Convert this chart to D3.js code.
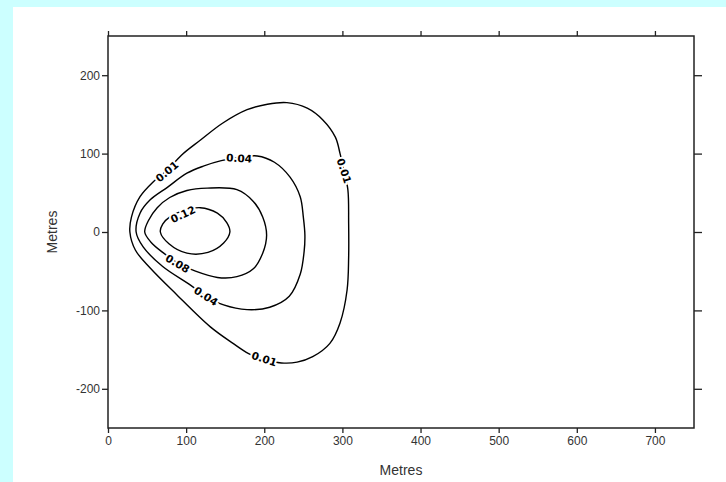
<!DOCTYPE html>
<html>
<head>
<meta charset="utf-8">
<script src="https://cdn.jsdelivr.net/npm/d3@7"></script>
<style>
  html, body { margin: 0; padding: 0; background: #ccffff; }
  #chart { position: absolute; left: 13px; top: 7px; width: 713px; height: 475px; background: #fff; }
  svg { position: absolute; left: 0; top: 0; }
</style>
</head>
<body>
<div id="chart"></div>
<script>
// contour lines, in metres [x, y]
const contour001 = [
  [28, 0], [30, 19], [41, 45], [58, 64], [76, 79], [94, 98], [118, 117], [147, 139],
  [178, 156], [204, 163], [229, 165], [255, 158], [275, 143], [291, 121], [297, 100],
  [302, 78], [307, 54], [308, 11], [308, -32], [306, -74], [297, -116], [284, -142],
  [262, -159], [242, -166], [222, -167], [200, -163], [180, -155], [160, -142],
  [131, -121], [88, -80], [54, -46], [35, -23]
];
const contour004 = [
  [36, 0], [41, 24], [54, 41], [76, 57], [101, 75], [122, 84], [145, 91], [168, 95],
  [191, 97], [213, 89], [233, 70], [246, 45], [250, 19], [252, -4], [251, -25],
  [246, -54], [232, -82], [207, -96], [178, -99], [148, -93], [125, -82], [106, -68],
  [70, -44], [45, -19]
];
const contour008 = [
  [47, 0], [52, 15], [63, 31], [79, 44], [101, 53], [127, 56], [165, 54], [186, 39],
  [198, 19], [203, -4], [198, -27], [186, -47], [165, -57], [140, -58], [112, -50],
  [90, -40], [70, -26], [55, -13]
];
const contour012 = [
  [67, 0], [70, 10], [80, 20], [96, 27], [118, 31], [140, 24], [152, 12], [156, 0],
  [148, -14], [128, -26], [101, -27], [78, -15]
];
const contours = [contour001, contour004, contour008, contour012];

// contour labels: text, position in metres, angle on screen (degrees)
const labelText = ["0.01", "0.04", "0.01", "0.12", "0.08", "0.04", "0.01"];
const labelPos = [[75.5, 77], [167.7, 94], [302, 78], [96, 22.5], [89, -40.5], [125.4, -82], [200, -162]];
const labelAngle = [-40, 3, 72, -25, 31, 33, 18];

const xTicks = [0, 100, 200, 300, 400, 500, 600, 700];
const yTicks = [-200, -100, 0, 100, 200];

const W = 713, H = 475;
const ox = 13, oy = 7; // offset of the white panel in the page

const x = d3.scaleLinear([0, 750], [108 - ox, 694 - ox]);
const y = d3.scaleLinear([-250, 250], [428 - oy, 36 - oy]);

const svg = d3.select("#chart").append("svg")
  .attr("width", W)
  .attr("height", H);

const tickFont = "'Liberation Sans Narrow', 'Arial Narrow', 'Liberation Sans', Arial, sans-serif";

function styleAxis(g) {
  g.select(".domain").remove();
  g.selectAll(".tick line").attr("stroke", "#222").attr("stroke-width", 1.3);
  g.selectAll(".tick text")
    .attr("fill", "#333")
    .style("font-family", tickFont)
    .style("font-size", "12px");
}

const fmt = d => String(d);

svg.append("g")
  .attr("transform", `translate(0,${y(-250)})`)
  .call(d3.axisBottom(x).tickValues(xTicks).tickSize(5).tickPadding(3).tickFormat(fmt))
  .call(styleAxis);

svg.append("g")
  .attr("transform", `translate(0,${y(250)})`)
  .call(d3.axisTop(x).tickValues(xTicks).tickSize(5).tickFormat(""))
  .call(styleAxis);

svg.append("g")
  .attr("transform", `translate(${x(0)},0)`)
  .call(d3.axisLeft(y).tickValues(yTicks).tickSize(6).tickPadding(2).tickFormat(fmt))
  .call(styleAxis);

svg.append("g")
  .attr("transform", `translate(${x(750)},0)`)
  .call(d3.axisRight(y).tickValues(yTicks).tickSize(8).tickFormat(""))
  .call(styleAxis);

// plot frame
svg.append("rect")
  .attr("x", x(0))
  .attr("y", y(250))
  .attr("width", x(750) - x(0))
  .attr("height", y(-250) - y(250))
  .attr("fill", "none")
  .attr("stroke", "#222")
  .attr("stroke-width", 1.5);

// contour lines
const line = d3.line()
  .x(d => x(d[0]))
  .y(d => y(d[1]))
  .curve(d3.curveCatmullRomClosed.alpha(0.5));

svg.append("g")
  .selectAll("path")
  .data(contours)
  .join("path")
  .attr("d", line)
  .attr("fill", "none")
  .attr("stroke", "#000")
  .attr("stroke-width", 1.4);

// labels sit on the lines, white halo opens a gap
svg.append("g")
  .selectAll("text")
  .data(labelText)
  .join("text")
  .attr("transform", (d, i) => `translate(${x(labelPos[i][0])},${y(labelPos[i][1])}) rotate(${labelAngle[i]})`)
  .attr("text-anchor", "middle")
  .attr("dy", "0.35em")
  .attr("fill", "#000")
  .attr("stroke", "#fff")
  .attr("stroke-width", 4)
  .attr("paint-order", "stroke")
  .style("font-family", "'DejaVu Sans', sans-serif")
  .style("font-size", "10.5px")
  .style("font-weight", "bold")
  .text(d => d);

// axis titles
svg.append("text")
  .attr("x", (x(0) + x(750)) / 2)
  .attr("y", 475 - oy)
  .attr("text-anchor", "middle")
  .attr("fill", "#333")
  .style("font-family", "'Liberation Sans', Arial, sans-serif")
  .style("font-size", "14px")
  .text("Metres");

svg.append("text")
  .attr("transform", `translate(${57 - ox},${y(0)}) rotate(-90)`)
  .attr("text-anchor", "middle")
  .attr("fill", "#333")
  .style("font-family", "'Liberation Sans', Arial, sans-serif")
  .style("font-size", "14px")
  .text("Metres");
</script>
</body>
</html>
